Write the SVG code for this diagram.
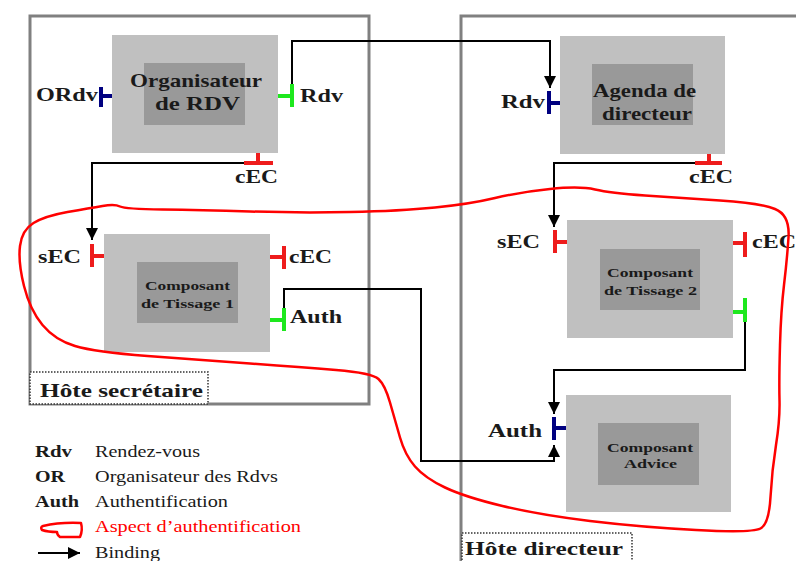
<svg xmlns="http://www.w3.org/2000/svg" width="796" height="561" viewBox="0 0 796 561">
<style>
.host{fill:none;stroke:#808080;stroke-width:3}
.outer{fill:#c0c0c0}
.inner{fill:#999999}
.t{font-family:"Liberation Serif","DejaVu Serif",serif;font-weight:bold;fill:#1a1a1a}
.big{font-size:19px}
.sm{font-size:13px}
.leg{font-family:"Liberation Serif","DejaVu Serif",serif;font-size:16px;fill:#1a1a1a}
.legb{font-weight:bold}
.red{fill:#ff0000}
.conn{fill:none;stroke:#000;stroke-width:2}
.pb{fill:none;stroke:#000080;stroke-width:4}
.pr{fill:none;stroke:#ee1c1c;stroke-width:4}
.pg{fill:none;stroke:#1ee81e;stroke-width:4}
.tag{fill:#fff;stroke:#333;stroke-width:1.5;stroke-dasharray:1.5 1.5}
.aspect{fill:none;stroke:#ff0000;stroke-width:2.5;stroke-linejoin:round}
</style>
<defs>
<marker id="arr" viewBox="0 0 10 10" refX="10" refY="5" markerWidth="12" markerHeight="12" markerUnits="userSpaceOnUse" orient="auto">
<path d="M0,0 L10,5 L0,10 z" fill="#000"/>
</marker>
</defs>
<rect width="796" height="561" fill="#fff"/>

<g id="host-secretaire">
<rect class="host" x="30" y="16" width="339" height="388"/>
<rect class="tag" x="30" y="372" width="178" height="32"/>
<text class="t big" x="40" y="397" textLength="163" lengthAdjust="spacingAndGlyphs" font-family="Liberation Serif, serif">Hôte secrétaire</text>
</g>

<g id="host-directeur">
<rect class="host" x="461" y="16" width="400" height="600"/>
<rect class="tag" x="462" y="533" width="170" height="40"/>
<text class="t big" x="465" y="555" textLength="158" lengthAdjust="spacingAndGlyphs">Hôte directeur</text>
</g>

<g id="organisateur">
<rect class="outer" x="112" y="35" width="166" height="118"/>
<rect class="inner" x="144" y="63" width="101" height="62"/>
<text class="t big" x="130" y="87" textLength="132" lengthAdjust="spacingAndGlyphs">Organisateur</text>
<text class="t big" x="155" y="110" textLength="85" lengthAdjust="spacingAndGlyphs">de RDV</text>
<path class="pb" d="M112,96 H101 M101,87 V107"/>
<text class="t big" x="36" y="101" textLength="62" lengthAdjust="spacingAndGlyphs">ORdv</text>
<path class="pg" d="M278,96 H292 M292,84 V107"/>
<text class="t big" x="300" y="102" textLength="43" lengthAdjust="spacingAndGlyphs">Rdv</text>
<path class="pr" d="M258,153 V163 M244,163 H273"/>
<text class="t big" x="235" y="183" textLength="43" lengthAdjust="spacingAndGlyphs">cEC</text>
</g>

<g id="agenda">
<rect class="outer" x="560" y="36" width="165" height="118"/>
<rect class="inner" x="592" y="64" width="101" height="61"/>
<text class="t big" x="593" y="97" textLength="103" lengthAdjust="spacingAndGlyphs">Agenda de</text>
<text class="t big" x="602" y="120" textLength="90" lengthAdjust="spacingAndGlyphs">directeur</text>
<path class="pb" d="M560,103 H549 M549,91 V114"/>
<text class="t big" x="501" y="108" textLength="44" lengthAdjust="spacingAndGlyphs">Rdv</text>
<path class="pr" d="M709,154 V163 M695,163 H722"/>
<text class="t big" x="689" y="183" textLength="44" lengthAdjust="spacingAndGlyphs">cEC</text>
</g>

<g id="tissage1">
<rect class="outer" x="104" y="234" width="166" height="118"/>
<rect class="inner" x="137" y="262" width="101" height="61"/>
<text class="t sm" x="145" y="290" textLength="85" lengthAdjust="spacingAndGlyphs">Composant</text>
<text class="t sm" x="141" y="308" textLength="93" lengthAdjust="spacingAndGlyphs">de Tissage 1</text>
<path class="pr" d="M104,256 H92 M92,244 V267"/>
<text class="t big" x="38" y="263" textLength="43" lengthAdjust="spacingAndGlyphs">sEC</text>
<path class="pr" d="M270,257 H284 M284,246 V269"/>
<text class="t big" x="289" y="263" textLength="43" lengthAdjust="spacingAndGlyphs">cEC</text>
<path class="pg" d="M270,320 H284 M284,308 V331"/>
<text class="t big" x="290" y="323" textLength="52" lengthAdjust="spacingAndGlyphs">Auth</text>
</g>

<g id="tissage2">
<rect class="outer" x="567" y="220" width="166" height="118"/>
<rect class="inner" x="600" y="249" width="100" height="61"/>
<text class="t sm" x="607" y="277" textLength="86" lengthAdjust="spacingAndGlyphs">Composant</text>
<text class="t sm" x="604" y="295" textLength="93" lengthAdjust="spacingAndGlyphs">de Tissage 2</text>
<path class="pr" d="M567,242 H555 M555,230 V253"/>
<text class="t big" x="497" y="248" textLength="43" lengthAdjust="spacingAndGlyphs">sEC</text>
<path class="pr" d="M733,243 H745 M745,232 V257"/>
<text class="t big" x="752" y="248" textLength="44" lengthAdjust="spacingAndGlyphs">cEC</text>
<path class="pg" d="M733,312 H745 M745,298 V322"/>
</g>

<g id="advice">
<rect class="outer" x="566" y="395" width="165" height="117"/>
<rect class="inner" x="598" y="423" width="101" height="62"/>
<text class="t sm" x="607" y="452" textLength="86" lengthAdjust="spacingAndGlyphs">Composant</text>
<text class="t sm" x="624" y="468" textLength="53" lengthAdjust="spacingAndGlyphs">Advice</text>
<path class="pb" d="M566,428 H554 M554,417 V440"/>
<text class="t big" x="488" y="437" textLength="54" lengthAdjust="spacingAndGlyphs">Auth</text>
</g>

<g id="connectors">
<path class="conn" d="M292,84 V41 H550 V88" marker-end="url(#arr)"/>
<path class="conn" d="M244,163 H92 V240" marker-end="url(#arr)"/>
<path class="conn" d="M284,308 V289 H421 V461 H554 V445" marker-end="url(#arr)"/>
<path class="conn" d="M695,163 H554 V227" marker-end="url(#arr)"/>
<path class="conn" d="M745,322 V370 H554 V414" marker-end="url(#arr)"/>
</g>

<g id="aspect-authentification">
<path class="aspect" d="M20,246 Q22,230 33.5,223 Q45,216 67.5,212 Q90,208 102.5,206 Q115,204 120,206.5 Q125,209 162.5,209.5 Q200,210 250,211.5 Q300,213 350,212 Q400,211 435,207.5 Q470,204 495,198 Q520,192 550,189 Q580,186 595,189.5 Q610,193 645,195.5 Q680,198 720,200.5 Q760,203 775,209 Q790,215 788.5,237.5 Q787,260 784,285 Q781,310 780,345 Q779,380 779.5,400 Q780,420 776,445 Q772,470 770.5,497 Q769,524 760.5,528.5 Q752,533 696,530 Q640,527 590,521 Q540,515 502.5,506 Q465,497 445,487.5 Q425,478 415,466.5 Q405,455 400,437.5 Q395,420 390,402.5 Q385,385 378.5,379 Q372,373 336,370 Q300,367 250,363.5 Q200,360 147.5,356 Q95,352 75,346 Q55,340 42.5,325 Q30,310 24,286 Q18,262 20,246 Z"/>
</g>

<g id="legend">
<text class="leg legb" x="35" y="457" textLength="37" lengthAdjust="spacingAndGlyphs">Rdv</text>
<text class="leg" x="95" y="457" textLength="105" lengthAdjust="spacingAndGlyphs">Rendez-vous</text>
<text class="leg legb" x="35" y="482" textLength="30" lengthAdjust="spacingAndGlyphs">OR</text>
<text class="leg" x="95" y="482" textLength="183" lengthAdjust="spacingAndGlyphs">Organisateur des Rdvs</text>
<text class="leg legb" x="35" y="507" textLength="44" lengthAdjust="spacingAndGlyphs">Auth</text>
<text class="leg" x="95" y="507" textLength="133" lengthAdjust="spacingAndGlyphs">Authentification</text>
<path class="aspect" d="M43,526 Q60,522 81,523 Q83,530 80,537 L60,537 Q57,535 57,532 Q48,532 42,530 Q40,527 43,526 Z"/>
<text class="leg red" x="95" y="532" textLength="206" lengthAdjust="spacingAndGlyphs">Aspect d’authentification</text>
<path class="conn" d="M38,553 H80" marker-end="url(#arr)"/>
<text class="leg" x="95" y="558" textLength="65" lengthAdjust="spacingAndGlyphs">Binding</text>
</g>
</svg>
